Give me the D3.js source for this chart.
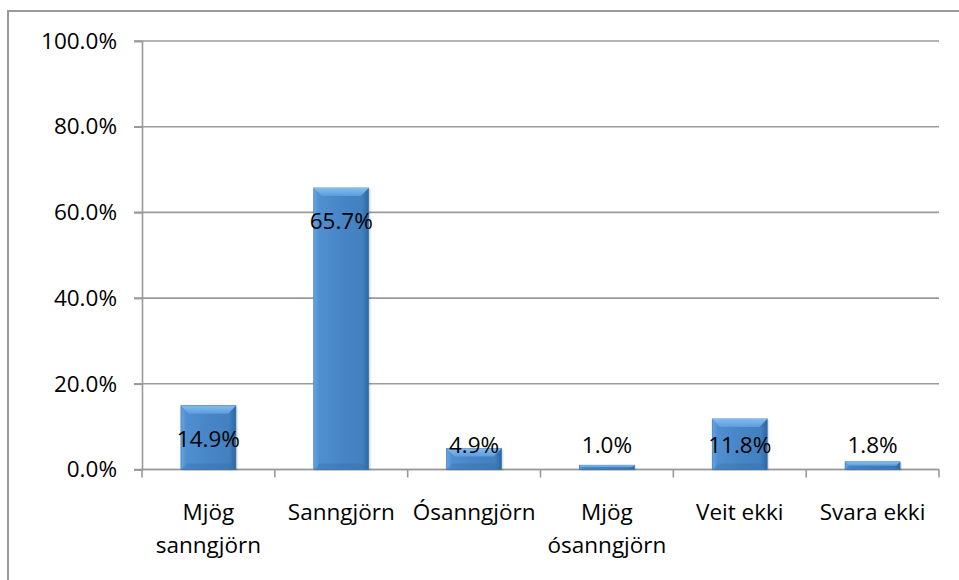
<!DOCTYPE html>
<html lang="is">
<head>
<meta charset="UTF-8">
<title>Sanngjörn</title>
<style>
    body { margin: 0; background: #fff; }
    svg { font-family: "Open Sans", sans-serif; }
    .grid line, .axis line { stroke: #9a9a9a; stroke-width: 1.6; }
</style>
</head>
<body>
<div id="chart"></div>
<script src="https://d3js.org/d3.v7.min.js"></script>
<script>
// gögn
var categories = [["Mjög", "sanngjörn"], ["Sanngjörn"], ["Ósanngjörn"], ["Mjög", "ósanngjörn"], ["Veit ekki"], ["Svara ekki"]];
var values = [14.9, 65.7, 4.9, 1.0, 11.8, 1.8];
var yTicks = [0, 20, 40, 60, 80, 100];

var W = 959, H = 580;
var plotLeft = 142, plotRight = 939, plotTop = 41, plotBottom = 469.5;

var svg = d3.select("#chart").append("svg")
    .attr("width", W).attr("height", H);

// ytri rammi
svg.append("rect")
    .attr("x", 8).attr("y", 11)
    .attr("width", 1000).attr("height", 1000)
    .attr("fill", "none").attr("stroke", "#9a9a9a").attr("stroke-width", 2);

var x = d3.scaleBand()
    .domain(d3.range(values.length))
    .range([plotLeft, plotRight])
    .paddingInner(0.586)
    .paddingOuter(0.293);

var y = d3.scaleLinear().domain([0, 100]).range([plotBottom, plotTop]);

// gradients for bars
var defs = svg.append("defs");
var g1 = defs.append("linearGradient").attr("id", "barFill")
    .attr("x1", 0).attr("x2", 1).attr("y1", 0).attr("y2", 0);
g1.append("stop").attr("offset", "0%").attr("stop-color", "#64a4e2");
g1.append("stop").attr("offset", "10%").attr("stop-color", "#4f8fd0");
g1.append("stop").attr("offset", "50%").attr("stop-color", "#4885c6");
g1.append("stop").attr("offset", "88%").attr("stop-color", "#4280c0");
g1.append("stop").attr("offset", "100%").attr("stop-color", "#2c66a2");
var g2 = defs.append("linearGradient").attr("id", "bevelTop")
    .attr("x1", 0).attr("x2", 0).attr("y1", 0).attr("y2", 1);
g2.append("stop").attr("offset", "0%").attr("stop-color", "#82bdf0");
g2.append("stop").attr("offset", "100%").attr("stop-color", "#5c9ddc");

// gridlines
svg.append("g").attr("class", "grid")
    .selectAll("line").data(yTicks).enter().append("line")
    .attr("x1", plotLeft - 8).attr("x2", plotRight)
    .attr("y1", function (d) { return y(d); })
    .attr("y2", function (d) { return y(d); });

// y axis
var yAxis = svg.append("g").attr("class", "axis")
    .attr("transform", "translate(" + plotLeft + ",0)")
    .call(d3.axisLeft(y).tickValues(yTicks).tickSize(8).tickPadding(17)
        .tickFormat(function (d) { return d.toFixed(1) + "%"; }));
yAxis.select(".domain").attr("stroke", "#9a9a9a").attr("stroke-width", 1.6);
yAxis.selectAll("text").attr("font-size", "22.5px").attr("fill", "#000")
    .attr("font-family", "Open Sans");

// x axis line + ticks at category edges
var xa = svg.append("g").attr("class", "axis");
xa.append("line").attr("x1", plotLeft).attr("x2", plotRight).attr("y1", plotBottom).attr("y2", plotBottom);
xa.selectAll(".edge").data(d3.range(values.length + 1)).enter().append("line")
    .attr("class", "edge")
    .attr("x1", function (i) { return plotLeft + i * x.step(); })
    .attr("x2", function (i) { return plotLeft + i * x.step(); })
    .attr("y1", plotBottom).attr("y2", plotBottom + 8);

// bars
var bars = svg.append("g").selectAll("g").data(values).enter().append("g");
bars.append("rect")
    .attr("x", function (d, i) { return x(i) + 2; })
    .attr("y", function (d) { return y(d) + 1; })
    .attr("width", x.bandwidth())
    .attr("height", function (d) { return plotBottom - y(d); })
    .attr("fill", "#000").attr("opacity", 0.1);
bars.append("rect")
    .attr("x", function (d, i) { return x(i); })
    .attr("y", function (d) { return y(d); })
    .attr("width", x.bandwidth())
    .attr("height", function (d) { return plotBottom - y(d); })
    .attr("fill", "url(#barFill)")
    .attr("stroke", "#3a72ad").attr("stroke-width", 0.7);
bars.append("polygon")
    .attr("fill", "url(#bevelTop)")
    .attr("points", function (d, i) {
        var x0 = x(i), x1 = x(i) + x.bandwidth(), t = y(d);
        var b = Math.min(8, (plotBottom - t) / 2);
        return [[x0, t], [x1, t], [x1 - b, t + b], [x0 + b, t + b]].join(" ");
    });
bars.append("polygon")
    .attr("fill", "#346ca8").attr("opacity", 0.35)
    .attr("points", function (d, i) {
        var x0 = x(i), x1 = x(i) + x.bandwidth(), t = y(d);
        var b = Math.min(6, (plotBottom - t) / 2);
        return [[x0, plotBottom], [x1, plotBottom], [x1 - b, plotBottom - b], [x0 + b, plotBottom - b]].join(" ");
    });

// data labels
bars.append("text")
    .attr("x", function (d, i) { return x(i) + x.bandwidth() / 2; })
    .attr("y", function (d) { return Math.min(y(d) + 33, plotBottom - 25) + 8; })
    .attr("text-anchor", "middle")
    .attr("font-size", "22.5px")
    .attr("fill", "#000")
    .text(function (d) { return d.toFixed(1) + "%"; });

// category labels
var cat = svg.append("g").selectAll("text").data(categories).enter().append("text")
    .attr("text-anchor", "middle")
    .attr("font-size", "22.5px")
    .attr("fill", "#000")
    .attr("transform", function (d, i) {
        return "translate(" + (x(i) + x.bandwidth() / 2) + ",520)";
    });
cat.selectAll("tspan").data(function (d) { return d; }).enter().append("tspan")
    .attr("x", 0)
    .attr("dy", function (d, j) { return j === 0 ? 0 : 33; })
    .text(function (d) { return d; });
</script>
</body>
</html>
